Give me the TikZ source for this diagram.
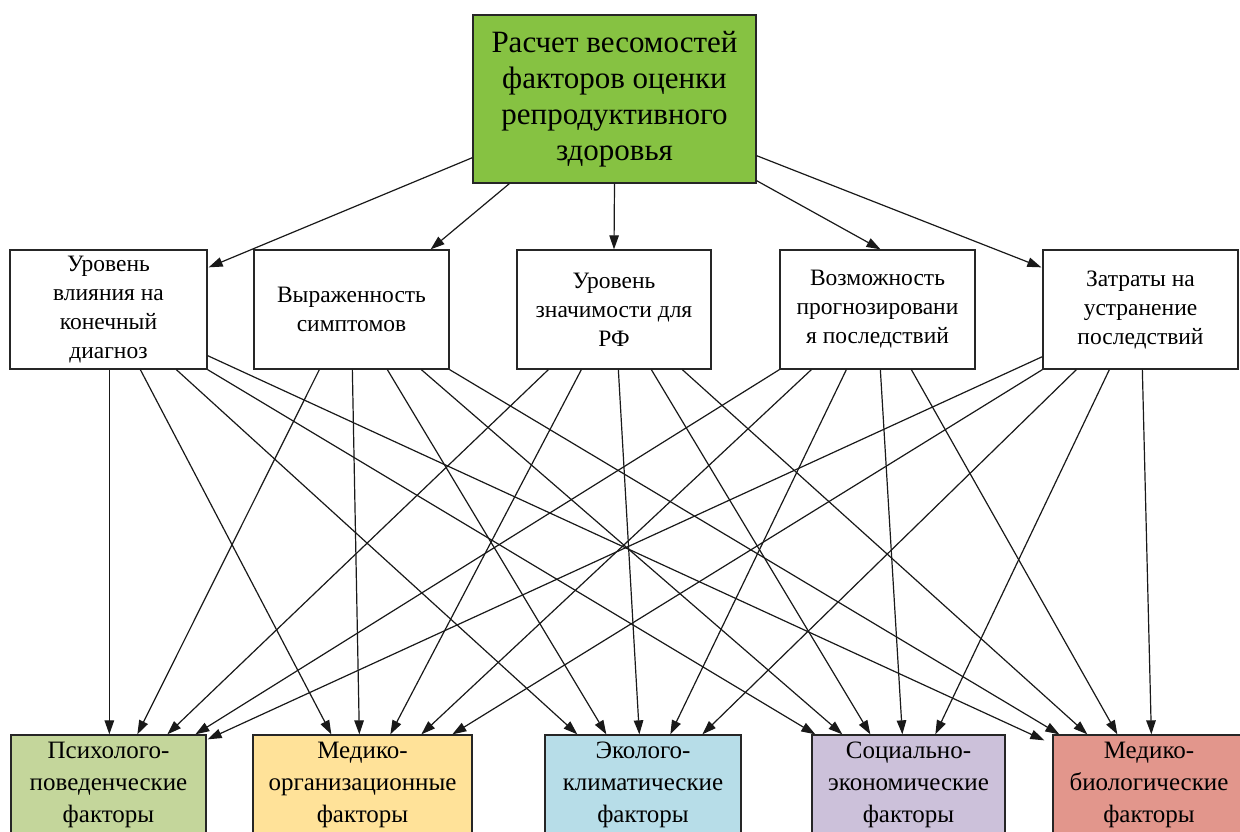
\documentclass[tikz,border=0pt]{standalone}
\usepackage{fontspec}
\setmainfont{Liberation Serif}
\usetikzlibrary{arrows.meta,calc}
\definecolor{topgreen}{RGB}{134,194,66}
\definecolor{cpsych}{RGB}{196,214,155}
\definecolor{cmedorg}{RGB}{255,226,153}
\definecolor{ceco}{RGB}{183,221,232}
\definecolor{csocial}{RGB}{204,193,218}
\definecolor{cmedbio}{RGB}{226,150,140}
\tikzset{
  topbox/.style={draw=black!85, line width=1.4pt, fill=topgreen, align=center,
    minimum width=283pt, minimum height=168pt, inner sep=0pt,
    font=\fontsize{31}{36}\selectfont},
  midbox/.style={draw=black!85, line width=1.3pt, fill=white, align=center,
    minimum height=119pt, inner sep=0pt,
    font=\fontsize{23.5}{29}\selectfont},
  botbox/.style={draw=black!85, line width=1.3pt, align=center,
    minimum height=100pt, inner sep=0pt,
    font=\fontsize{25}{32}\selectfont},
  conn/.style={line width=1.2pt, draw=black!90, -{Triangle[length=14pt,width=9.5pt]}},
}
\begin{document}
\begin{tikzpicture}[x=1pt,y=-1pt]
\clip (0,0) rectangle (1240,832);
\useasboundingbox (0,0) rectangle (1240,832);
\fill[white] (0,0) rectangle (1240,832);

\node[topbox] (top) at (614.5,99) {Расчет весомостей\\факторов оценки\\репродуктивного\\здоровья};

\node[midbox, minimum width=197pt] (m1) at (108.5,309.5) {Уровень\\влияния на\\конечный\\диагноз};
\node[midbox, minimum width=195pt] (m2) at (351.5,309.5) {Выраженность\\симптомов};
\node[midbox, minimum width=194pt] (m3) at (614,309.5) {Уровень\\значимости для\\РФ};
\node[midbox, minimum width=195pt] (m4) at (877.5,309.5) {Возможность\\прогнозировани\\я последствий};
\node[midbox, minimum width=195pt] (m5) at (1140.5,309.5) {Затраты на\\устранение\\последствий};

\node[botbox, fill=cpsych, minimum width=195pt] (b1) at (108.5,785) {Психолого-\\поведенческие\\факторы};
\node[botbox, fill=cmedorg, minimum width=219pt] (b2) at (362.5,785) {Медико-\\организационные\\факторы};
\node[botbox, fill=ceco, minimum width=196pt] (b3) at (643,785) {Эколого-\\климатические\\факторы};
\node[botbox, fill=csocial, minimum width=193pt] (b4) at (908.5,785) {Социально-\\экономические\\факторы};
\node[botbox, fill=cmedbio, minimum width=192pt] (b5) at (1149,785) {Медико-\\биологические\\факторы};

% top to middle
\draw[conn] ($(top.south west)+(0,-26)$) -- ($(m1.north east)+(1,18)$);
\draw[conn] ($(top.south west)+(37,0)$) -- ($(m2.north east)+(-19,0)$);
\draw[conn] (top.south) -- (m3.north);
\draw[conn] ($(top.south east)+(0,-3)$) -- ($(m4.north)+(3,0)$);
\draw[conn] ($(top.south east)+(0,-28)$) -- ($(m5.north west)+(-1,18)$);

% middle 1
\draw[conn] ($(m1.south west)+(100,0)$) -- ($(b1.north west)+(99,0)$);
\draw[conn] ($(m1.south west)+(131,0)$) -- ($(b2.north west)+(79,0)$);
\draw[conn] ($(m1.south west)+(167,0)$) -- ($(b3.north west)+(33,0)$);
\draw[conn] (m1.south east) -- ($(b4.north west)+(4,0)$);
\draw[conn] ($(m1.south east)+(0,-14)$) -- ($(b5.north west)+(-8,6)$);
% middle 2
\draw[conn] ($(m2.south west)+(66,0)$) -- ($(b1.north west)+(127,0)$);
\draw[conn] ($(m2.south west)+(99,0)$) -- ($(b2.north west)+(107,0)$);
\draw[conn] ($(m2.south west)+(134,0)$) -- ($(b3.north west)+(62,0)$);
\draw[conn] ($(m2.south west)+(168,0)$) -- ($(b4.north west)+(31,0)$);
\draw[conn] (m2.south east) -- ($(b5.north west)+(7,0)$);
% middle 3
\draw[conn] ($(m3.south west)+(32,0)$) -- ($(b1.north west)+(157,0)$);
\draw[conn] ($(m3.south west)+(65,0)$) -- ($(b2.north west)+(138,0)$);
\draw[conn] ($(m3.south west)+(102,0)$) -- ($(b3.north west)+(95,0)$);
\draw[conn] ($(m3.south west)+(135,0)$) -- ($(b4.north west)+(59,0)$);
\draw[conn] ($(m3.south west)+(166,0)$) -- ($(b5.north west)+(35,0)$);
% middle 4
\draw[conn] (m4.south west) -- ($(b1.north west)+(185,0)$);
\draw[conn] ($(m4.south west)+(32,0)$) -- ($(b2.north west)+(169,0)$);
\draw[conn] ($(m4.south west)+(67,0)$) -- ($(b3.north west)+(126,0)$);
\draw[conn] ($(m4.south west)+(101,0)$) -- ($(b4.north west)+(91,0)$);
\draw[conn] ($(m4.south west)+(132,0)$) -- ($(b5.north west)+(65,0)$);
% middle 5
\draw[conn] ($(m5.south west)+(0,-13)$) -- ($(b1.north east)+(1,5)$);
\draw[conn] (m5.south west) -- ($(b2.north west)+(200,0)$);
\draw[conn] ($(m5.south west)+(34,0)$) -- ($(b3.north west)+(158,0)$);
\draw[conn] ($(m5.south west)+(67,0)$) -- ($(b4.north west)+(124,0)$);
\draw[conn] ($(m5.south west)+(100,0)$) -- ($(b5.north west)+(99,0)$);
\end{tikzpicture}
\end{document}
